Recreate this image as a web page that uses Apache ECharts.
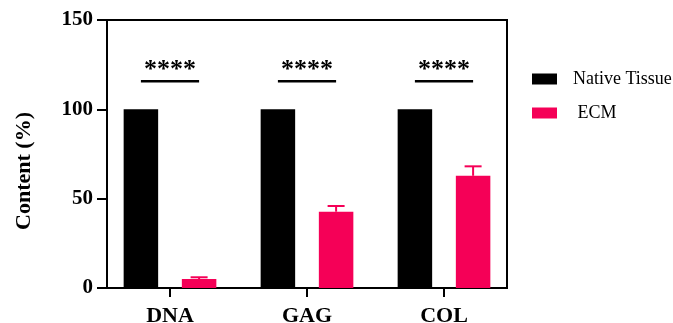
<!DOCTYPE html>
<html>
<head>
<meta charset="utf-8">
<script src="https://cdn.jsdelivr.net/npm/echarts@6/dist/echarts.min.js"></script>
<style>html,body{margin:0;padding:0;background:#fff;}#c{width:673px;height:323px;}</style>
</head>
<body>
<div id="c"></div>
<script>
const categories = ['DNA', 'GAG', 'COL'];
const nativeTissue = [100, 100, 100];
const ecm = [5.0, 42.7, 62.8];
const ecmErr = [1.0, 3.2, 5.3];
const sigLevel = [115.7, 115.7, 115.7];
const sigText = ['****', '****', '****'];
const yTicks = [0, 50, 100, 150];

const FONT = '"Liberation Serif", "Times New Roman", serif';
const PINK = '#F50057';
const BAR_W = 34.5;
const BAR_GAP = 23.7;
const HALF = (BAR_W + BAR_GAP) / 2;

const chart = echarts.init(document.getElementById('c'));
chart.setOption({
  animation: false,
  backgroundColor: '#fff',
  grid: [
    { left: 101.5, width: 411, top: 20, bottom: 35, containLabel: false, outerBoundsMode: 'none' },
    { left: 107, width: 400, top: 20, bottom: 35, containLabel: false, outerBoundsMode: 'none', show: true, borderColor: '#000', borderWidth: 2, backgroundColor: 'transparent' }
  ],
  legend: {
    orient: 'vertical', left: 532, top: 70, padding: 0, itemWidth: 25, itemHeight: 11, itemGap: 16,
    icon: 'rect',
    textStyle: { fontFamily: FONT, fontSize: 18, color: '#000', padding: [0, 0, 0, 11] },
    data: ['Native Tissue', ' ECM']
  },
  xAxis: [
    {
      type: 'category', gridIndex: 0, data: categories,
      axisLine: { show: false },
      axisTick: { show: true, alignWithLabel: true, length: 9, lineStyle: { color: '#000', width: 2 } },
      axisLabel: { fontFamily: FONT, fontWeight: 'bold', fontSize: 22, color: '#000', margin: 17 }
    },
    { type: 'value', gridIndex: 1, min: 0, max: 1, show: false }
  ],
  yAxis: [
    { type: 'value', gridIndex: 0, min: 0, max: 150, interval: 50, show: false },
    {
      type: 'value', gridIndex: 1, min: yTicks[0], max: yTicks[yTicks.length - 1], interval: 50,
      splitLine: { show: false },
      axisLine: { show: true, lineStyle: { color: '#000', width: 2 } },
      axisTick: { show: true, length: 10, lineStyle: { color: '#000', width: 2 } },
      axisLabel: { fontFamily: FONT, fontWeight: 'bold', fontSize: 21, color: '#000', margin: 14 },
      name: 'Content (%)', nameLocation: 'middle', nameGap: 72,
      nameTextStyle: { fontFamily: FONT, fontWeight: 'bold', fontSize: 22, color: '#000', padding: [0, 34, 0, 0] }
    }
  ],
  series: [
    {
      name: 'Native Tissue', type: 'bar', xAxisIndex: 0, yAxisIndex: 0,
      data: nativeTissue, barWidth: BAR_W, barGap: (BAR_GAP / BAR_W * 100) + '%',
      itemStyle: { color: '#000' }
    },
    {
      name: ' ECM', type: 'bar', xAxisIndex: 0, yAxisIndex: 0,
      data: ecm, barWidth: BAR_W,
      itemStyle: { color: PINK }
    },
    {
      type: 'custom', xAxisIndex: 0, yAxisIndex: 0, silent: true,
      data: ecm.map((v, i) => [i, v, v + ecmErr[i]]),
      renderItem: function (params, api) {
        const base = api.coord([api.value(0), api.value(1)]);
        const top = api.coord([api.value(0), api.value(2)]);
        const x = base[0] + HALF;
        const st = { stroke: PINK, lineWidth: 2 };
        return { type: 'group', children: [
          { type: 'line', shape: { x1: x, y1: base[1], x2: x, y2: top[1] }, style: st },
          { type: 'line', shape: { x1: x - 8.5, y1: top[1], x2: x + 8.5, y2: top[1] }, style: st }
        ] };
      }
    },
    {
      type: 'custom', xAxisIndex: 0, yAxisIndex: 0, silent: true,
      data: sigLevel.map((v, i) => [i, v]),
      renderItem: function (params, api) {
        const p = api.coord([api.value(0), api.value(1)]);
        return { type: 'group', children: [
          { type: 'line', shape: { x1: p[0] - HALF, y1: p[1], x2: p[0] + HALF, y2: p[1] }, style: { stroke: '#000', lineWidth: 2.5 } },
          { type: 'text', x: p[0], y: p[1] + 2, style: { text: sigText[params.dataIndex], fill: '#000', font: 'bold 26px ' + FONT, align: 'center', verticalAlign: 'bottom' } }
        ] };
      }
    }
  ]
});
</script>
</body>
</html>
